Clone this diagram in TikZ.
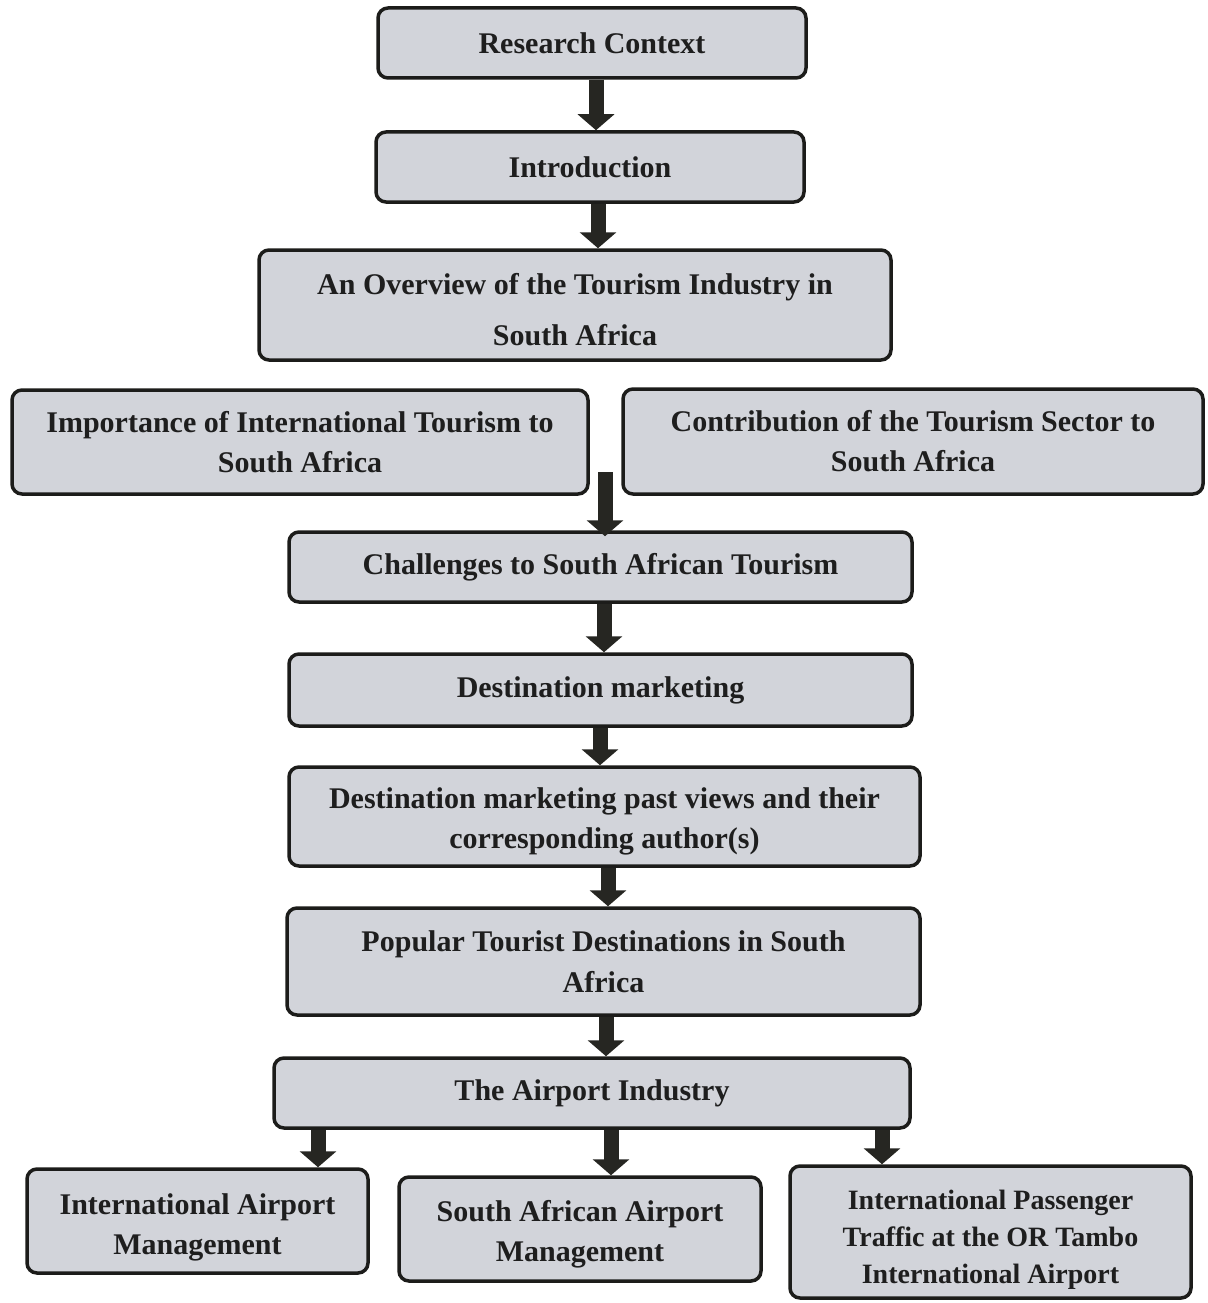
\documentclass[tikz,border=0pt]{standalone}
\usepackage{fontspec}
\setmainfont{Liberation Serif}
\usetikzlibrary{arrows.meta}
\definecolor{boxfill}{RGB}{210,212,218}
\definecolor{boxline}{RGB}{28,28,26}
\definecolor{txt}{RGB}{30,30,30}
\definecolor{arrowc}{RGB}{38,38,34}
\newcommand\toppad[1]{\rule{0pt}{#1}}
\tikzset{
  box/.style={draw=boxline, line width=3.5pt, fill=boxfill, rounded corners=10pt,
    align=center, inner sep=0pt, text=txt, font=\bfseries\fontsize{30}{40}\selectfont},
  flow/.style={draw=arrowc, line width=15pt, -{Triangle[width=36pt,length=16pt]}}
}
\begin{document}
\begin{tikzpicture}[x=1pt,y=-1pt]
\useasboundingbox[fill=white] (0,0) rectangle (1207,1303);
\node[box, minimum width=428, minimum height=70] (rc) at (592,43) {Research Context};
\node[box, minimum width=428, minimum height=70] (intro) at (590,167) {Introduction};
\node[box, minimum width=632, minimum height=110, font=\bfseries\fontsize{30}{51}\selectfont] (ov) at (575,305) {\toppad{31pt}An Overview of the Tourism Industry in\\South Africa};
\node[box, minimum width=576, minimum height=104] (imp) at (300,442) {Importance of International Tourism to\\South Africa};
\node[box, minimum width=580, minimum height=105] (con) at (913,441.5) {Contribution of the Tourism Sector to\\South Africa};
\node[box, minimum width=623, minimum height=70] (ch) at (600.5,567) {Challenges to South African Tourism};
\node[box, minimum width=623, minimum height=72] (dm) at (600.5,690) {Destination marketing};
\node[box, minimum width=631, minimum height=99] (pv) at (604.5,816.5) {\toppad{31pt}Destination marketing past views and their\\corresponding author(s)};
\node[box, minimum width=633, minimum height=107, font=\bfseries\fontsize{30}{41}\selectfont] (pop) at (603.5,961.5) {Popular Tourist Destinations in South\\Africa};
\node[box, minimum width=636, minimum height=70] (ai) at (592,1093) {The Airport Industry};
\node[box, minimum width=341, minimum height=104] (iam) at (197.5,1221) {\toppad{33pt}International Airport\\Management};
\node[box, minimum width=362, minimum height=104] (saam) at (580,1229) {\toppad{31pt}South African Airport\\Management};
\node[box, minimum width=401, minimum height=132, font=\bfseries\fontsize{28}{37}\selectfont] (pt) at (990.5,1232) {\toppad{35pt}International Passenger\\Traffic at the OR Tambo\\International Airport};
% arrow columns
\coordinate (c1) at (596,0);
\coordinate (c2) at (598,0);
\coordinate (c3) at (605,0);
\coordinate (c4) at (604,0);
\coordinate (c5) at (600,0);
\coordinate (c6) at (608,0);
\coordinate (c7) at (606,0);
\coordinate (c8) at (318,0);
\coordinate (c9) at (611,0);
\coordinate (c10) at (882,0);
\coordinate (gap) at (0,472);
\draw[flow] (c1 |- rc.south) -- (c1 |- intro.north);
\draw[flow] (c2 |- intro.south) -- (c2 |- ov.north);
\draw[flow] (c3 |- gap) -- ([yshift=-6pt]c3 |- ch.north);
\draw[flow] (c4 |- ch.south) -- (c4 |- dm.north);
\draw[flow] (c5 |- dm.south) -- (c5 |- pv.north);
\draw[flow] (c6 |- pv.south) -- (c6 |- pop.north);
\draw[flow] (c7 |- pop.south) -- (c7 |- ai.north);
\draw[flow] (c8 |- ai.south) -- (c8 |- iam.north);
\draw[flow] (c9 |- ai.south) -- (c9 |- saam.north);
\draw[flow] (c10 |- ai.south) -- (c10 |- pt.north);
\end{tikzpicture}
\end{document}
